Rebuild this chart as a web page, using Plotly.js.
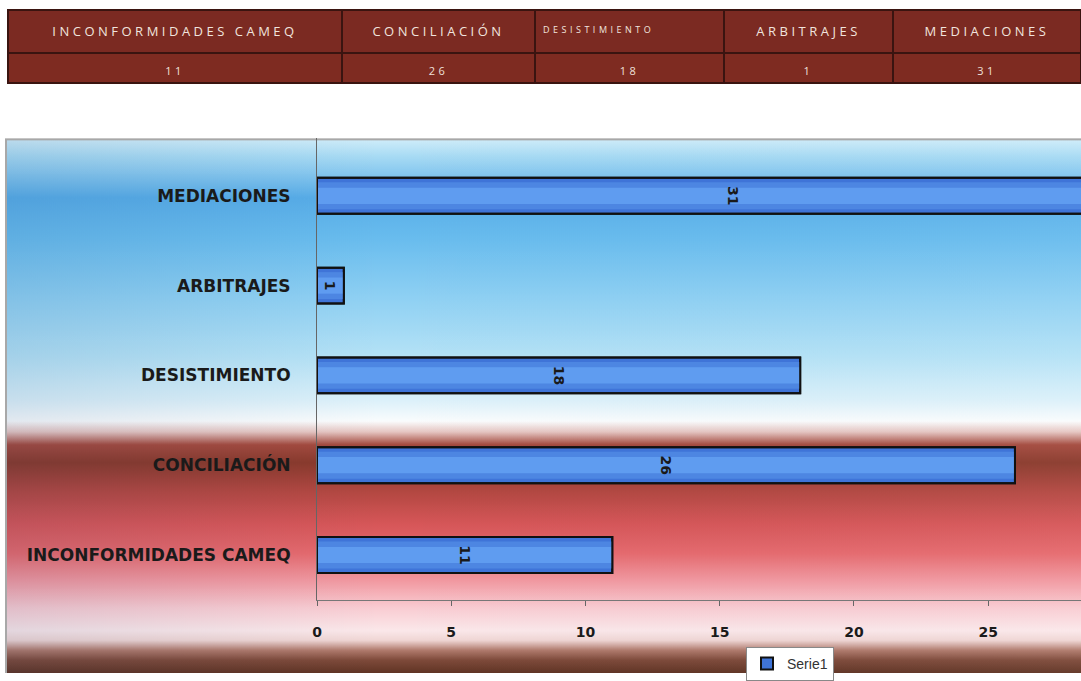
<!DOCTYPE html>
<html>
<head>
<meta charset="utf-8">
<script src="https://cdn.plot.ly/plotly-3.0.1.min.js"></script>
<style>
html,body{margin:0;padding:0;background:#ffffff;}
#chart{width:1081px;height:681px;}
#chart .cell-text{letter-spacing:3.5px;}
</style>
</head>
<body>
<div id="chart"></div>
<script>
// ---- data ----
const categories = ['INCONFORMIDADES CAMEQ', 'CONCILIACIÓN', 'DESISTIMIENTO', 'ARBITRAJES', 'MEDIACIONES'];
const values = [11, 26, 18, 1, 31];
const tableHeaders = ['INCONFORMIDADES CAMEQ', 'CONCILIACIÓN', 'DESISTIMIENTO', 'ARBITRAJES', 'MEDIACIONES'];
const tableValues = [11, 26, 18, 1, 31];
const xTickVals = [0, 5, 10, 15, 20, 25];
const seriesName = 'Serie1';

// ---- background (decoration) ----
function makeBackground() {
  const W = 1076, H = 541, Y0 = 140;
  const c = document.createElement('canvas');
  c.width = W; c.height = H;
  const g = c.getContext('2d');
  const stops = [
    [140, '#d2eefa'], [158, '#a8dbf4'], [200, '#58ade8'], [240, '#68bcee'],
    [300, '#8ed0f3'], [360, '#b4e2f6'], [405, '#dcf1fa'], [426, '#fafcfd'],
    [437, '#e6c6c2'], [450, '#a44a3e'], [468, '#8a3a2c'], [498, '#b44842'],
    [530, '#d65658'], [560, '#e66a6e'], [588, '#f29aa2'], [615, '#f9ccd2'],
    [638, '#fbe8ea'], [648, '#f0d6d4'], [658, '#b07a6c'], [668, '#7e4a3a'], [681, '#603424']
  ];
  const lg = g.createLinearGradient(0, 0, 0, H);
  stops.forEach(s => lg.addColorStop((s[0] - Y0) / H, s[1]));
  g.fillStyle = lg;
  g.fillRect(0, 0, W, H);
  const hg = g.createLinearGradient(0, 0, W, 0);
  hg.addColorStop(0, 'rgba(20,60,120,0.10)');
  hg.addColorStop(0.35, 'rgba(20,60,120,0.0)');
  hg.addColorStop(1, 'rgba(255,255,255,0.04)');
  g.fillStyle = hg;
  g.fillRect(0, 0, W, H);
  g.strokeStyle = '#a8a8a8';
  g.lineWidth = 2;
  g.beginPath();
  g.moveTo(1, H); g.lineTo(1, 1); g.lineTo(W, 1);
  g.stroke();
  return c.toDataURL('image/png');
}

const W = 1081, H = 681;
const boldFont = {family: 'DejaVu Sans', weight: 'bold', color: '#1a1a1a'};

function shadeTrace(width, color, extra) {
  return Object.assign({
    type: 'bar', orientation: 'h', y: categories, x: values,
    width: width,
    marker: {color: color, line: {width: 0}},
    hoverinfo: 'skip', showlegend: false
  }, extra || {});
}

const traceBase = shadeTrace(0.4, '#3564c8', {
  name: seriesName, showlegend: true,
  marker: {color: '#3f74d8', line: {color: '#111111', width: 2}}
});
const traceMid = shadeTrace(0.3, '#4d86e2');
const traceLight = shadeTrace(0.18, '#5f9cf0');
const traceOutline = shadeTrace(0.4, 'rgba(0,0,0,0)', {
  marker: {color: 'rgba(0,0,0,0)', line: {color: '#111111', width: 2}},
  text: values.map(String), textposition: 'inside', insidetextanchor: 'middle',
  textangle: 90, constraintext: 'none',
  textfont: Object.assign({size: 14}, boldFont)
});

const tableTrace = {
  type: 'table',
  domain: {x: [8 / W, 1], y: [1 - 85 / H, 1 - 10 / H]},
  columnwidth: [334, 193, 189, 169, 188],
  header: {
    values: tableHeaders,
    height: 43,
    align: ['center', 'center', 'left', 'center', 'center'],
    fill: {color: '#7b2a22'},
    line: {color: '#3a1410', width: 2},
    font: {family: 'Open Sans', size: [13, 13, 9, 13, 13], color: '#f1e4de'}
  },
  cells: {
    values: tableValues.map(v => [v]),
    height: 30,
    align: 'center',
    fill: {color: '#7e2b21'},
    line: {color: '#3a1410', width: 2},
    font: {family: 'Open Sans', size: 11, color: '#efe0da'}
  }
};

const layout = {
  width: W, height: H,
  margin: {l: 0, r: 0, t: 0, b: 0},
  paper_bgcolor: '#ffffff',
  plot_bgcolor: 'rgba(0,0,0,0)',
  barmode: 'overlay',
  showlegend: true,
  legend: {
    x: 746 / W, y: 1 - 655 / H, xanchor: 'left', yanchor: 'top',
    bgcolor: '#ffffff', bordercolor: '#888888', borderwidth: 1,
    font: {family: 'Liberation Sans', size: 14, color: '#333333'},
    itemwidth: 30
  },
  xaxis: {
    domain: [317 / W, 1],
    range: [0, 28.46],
    tickvals: xTickVals,
    ticktext: xTickVals.map(String),
    ticks: 'outside', ticklen: 5, tickcolor: '#666666',
    ticklabelstandoff: 14,
    showline: true, linecolor: '#777777', linewidth: 1,
    showgrid: false, zeroline: false,
    tickfont: Object.assign({size: 14}, boldFont),
    fixedrange: true
  },
  yaxis: {
    domain: [1 - 607 / H, 1 - 140 / H],
    type: 'category',
    categoryorder: 'array', categoryarray: categories,
    range: [-0.5, 4.64],
    ticks: '', ticklabelstandoff: 22,
    showline: true, linecolor: '#666666', linewidth: 1,
    showgrid: false, zeroline: false,
    tickfont: Object.assign({size: 17}, boldFont),
    fixedrange: true
  },
  images: [{
    source: makeBackground(),
    xref: 'paper', yref: 'paper',
    x: 5 / W, y: 1 - 140 / H,
    sizex: 1076 / W, sizey: 541 / H,
    xanchor: 'left', yanchor: 'top',
    sizing: 'stretch', layer: 'below'
  }]
};

Plotly.newPlot('chart', [tableTrace, traceBase, traceMid, traceLight, traceOutline], layout,
  {displayModeBar: false, staticPlot: true}).then(gd => {
  // vertically centre the table texts in their cells, as in the reference
  gd.querySelectorAll('.cell-text').forEach(el => {
    const top = el.getBoundingClientRect().top;
    const dy = top < 45 ? 8 : 6;
    el.setAttribute('transform', (el.getAttribute('transform') || '') + ' translate(0,' + dy + ')');
  });
});
</script>
</body>
</html>
